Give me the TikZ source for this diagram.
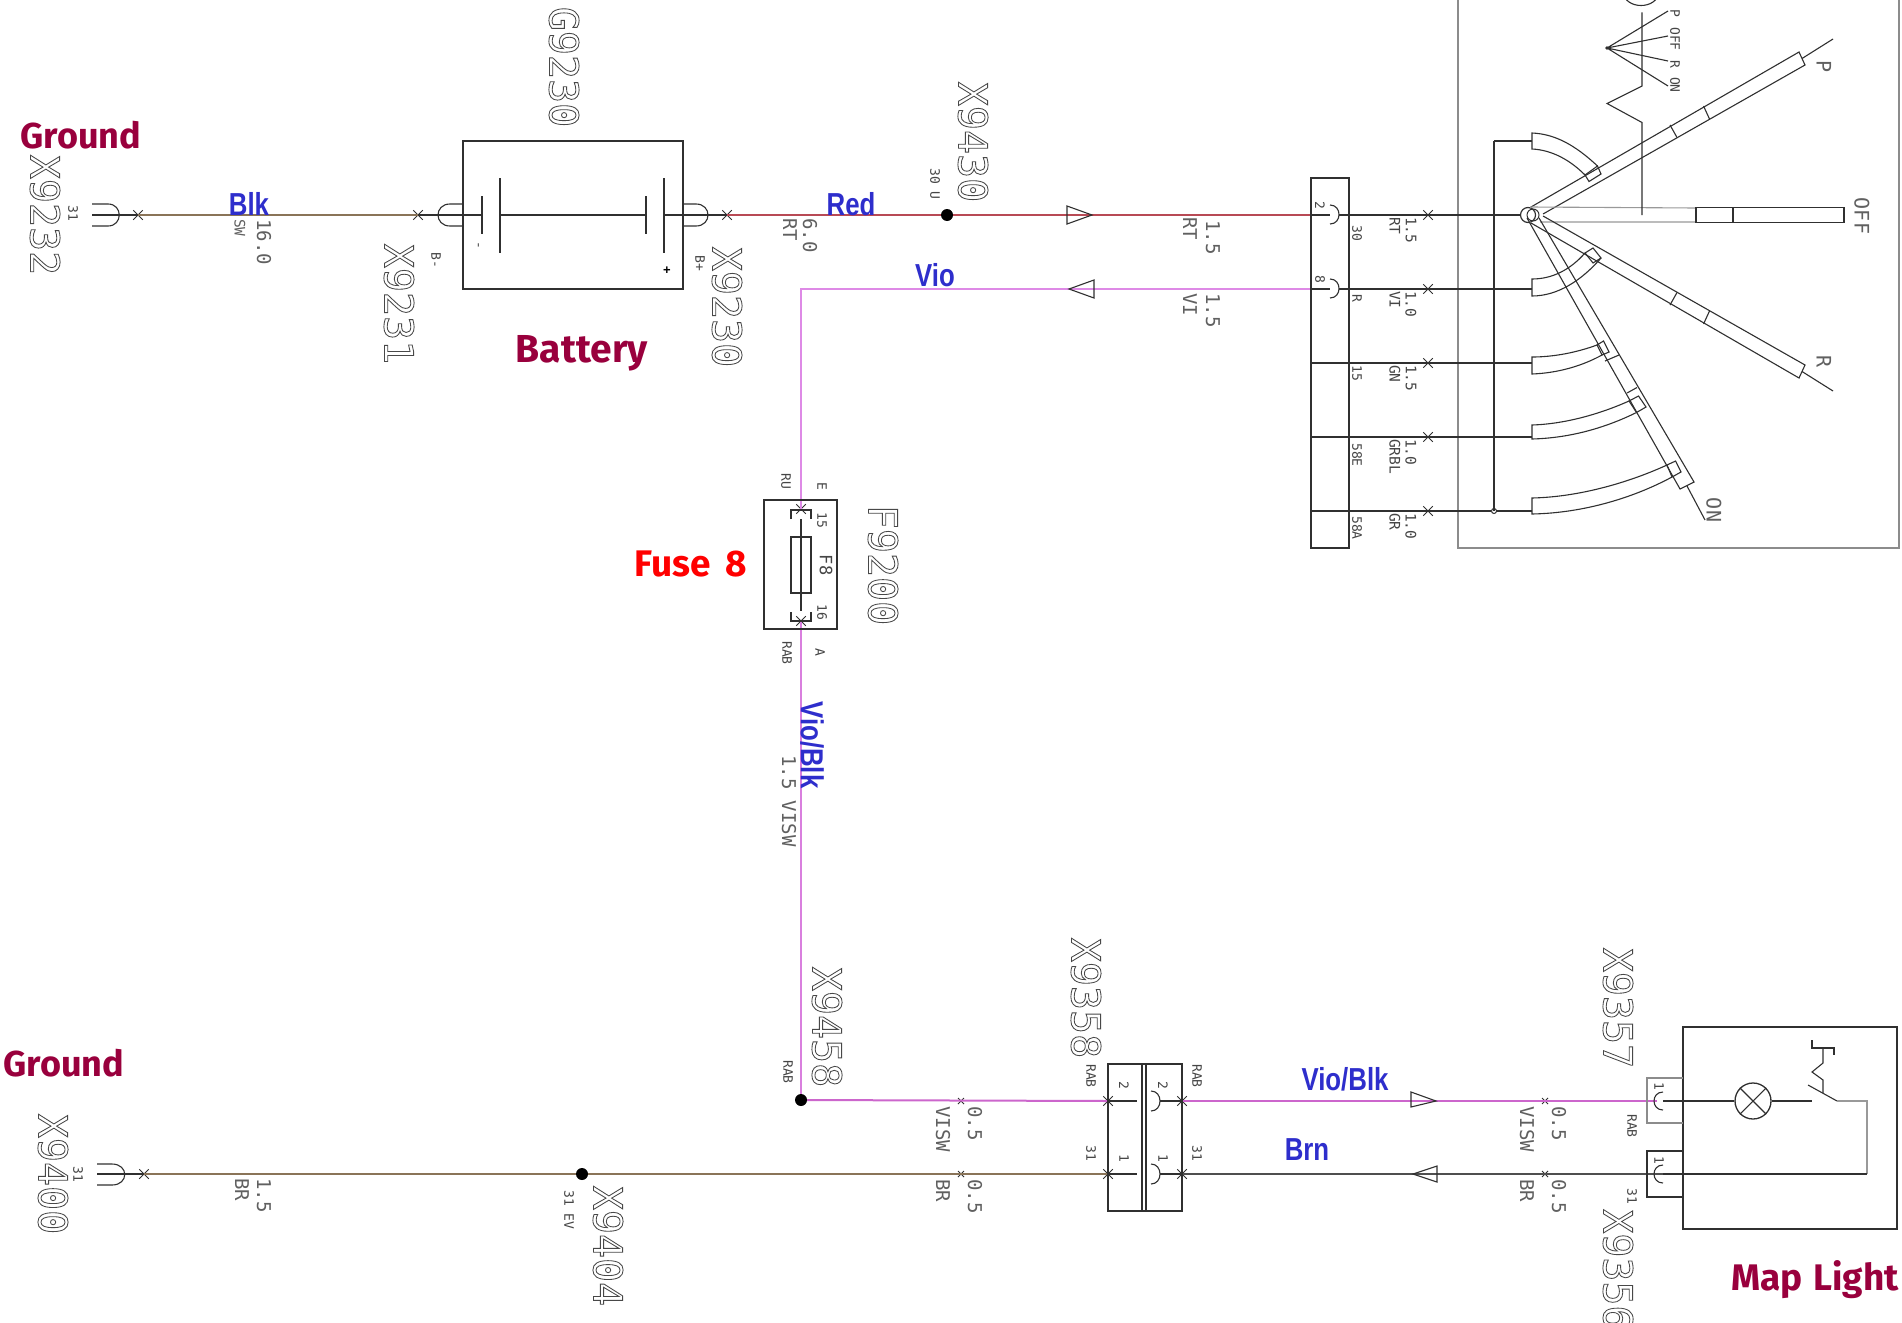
\documentclass[tikz,border=0pt]{standalone}
\usepackage{fontspec}
\usepackage{graphicx}
\usetikzlibrary{shapes.misc}
\newfontfamily\hand{Fira Sans}
\newfontfamily\arialf{Liberation Sans}
\newfontfamily\dsm{DejaVu Sans Mono}
\definecolor{tanwire}{HTML}{8A7458}
\definecolor{redwire}{HTML}{B84A55}
\definecolor{viowire}{HTML}{DE8AE6}
\definecolor{magwire}{HTML}{CC66CC}
\definecolor{ink}{HTML}{303030}
\definecolor{txtgray}{HTML}{606060}
\definecolor{biggray}{HTML}{484848}
\definecolor{maroon}{HTML}{99003D}
\definecolor{labblue}{HTML}{2E2ECC}
\newcommand{\outl}[1]{\special{pdf:code 1 Tr 0.85 w}#1\special{pdf:code 0 Tr}}
\newcommand{\nrw}[1]{\scalebox{0.86}[1.06]{#1}}
\tikzset{
  base/.style={draw=ink,line width=1.1pt,line join=miter},
  thin grey/.style={draw=gray!90,line width=1.2pt},
  big/.style={rotate=-90,inner sep=0,text=biggray,font={\dsm\fontsize{40}{40}\selectfont}},
  mid/.style={rotate=-90,inner sep=0,anchor=west,text=txtgray,font={\dsm\fontsize{19}{19}\selectfont}},
  midb/.style={rotate=-90,inner sep=0,anchor=west,text=ink!90,font={\dsm\fontsize{14.5}{14.5}\selectfont}},
  tiny/.style={rotate=-90,inner sep=0,text=ink!90,font={\dsm\fontsize{13}{13}\selectfont}},
  armlab/.style={rotate=-90,inner sep=0,text=txtgray,font={\dsm\fontsize{20}{20}\selectfont}},
  hw/.style={inner sep=0,text=maroon,font={\hand\bfseries\fontsize{37}{37}\selectfont}},
  wl/.style={inner sep=0,text=labblue,font={\arialf\bfseries\fontsize{30}{30}\selectfont}},
  xm/.style={cross out,draw=ink,line width=1pt,minimum size=8.5pt,inner sep=0},
  xs/.style={cross out,draw=ink,line width=1pt,minimum size=5pt,inner sep=0},
  jdot/.style={circle,fill=black,minimum size=12pt,inner sep=0},
  wtan/.style={draw=tanwire,line width=1.8pt},
  wred/.style={draw=redwire,line width=1.8pt},
  wvio/.style={draw=viowire,line width=2pt},
  wmag/.style={draw=magwire,line width=2pt},
  wblk/.style={draw=ink,line width=1.6pt},
}
\begin{document}
\begin{tikzpicture}[x=1pt,y=-1pt]
\useasboundingbox (0,0) rectangle (1902,1322);
\clip (0,0) rectangle (1902,1322);
\fill[white] (0,0) rectangle (1902,1322);

%---------- switch enclosure
\draw[thin grey] (1458,0) -- (1458,548) -- (1899,548) -- (1899,0);

%---------- crosses and junctions
\node[xm] (xgnd) at (138,215) {};
\node[xm] (xbm) at (418,215) {};
\node[xm] (xbp) at (727,215) {};
\node[jdot] (d9430) at (947,215) {};
\node[xm] (xf1) at (801,509) {};
\node[xm] (xf2) at (801,621) {};
\node[jdot] (d9458) at (801,1100) {};
\node[xm] (xgnd2) at (144,1174) {};
\node[jdot] (d9404) at (582,1174) {};
\node[xm] (xc1) at (1108,1101) {};
\node[xm] (xc2) at (1108,1174) {};
\node[xm] (xd1) at (1182,1101) {};
\node[xm] (xd2) at (1182,1174) {};
\node[xs] (xe1) at (961,1101) {};
\node[xs] (xe2) at (961,1174) {};
\node[xs] (xg1) at (1545,1101) {};
\node[xs] (xg2) at (1545,1174) {};
\node[xm] (xr1) at (1428,215) {};
\node[xm] (xr2) at (1428,289) {};
\node[xm] (xr3) at (1428,363) {};
\node[xm] (xr4) at (1428,437) {};
\node[xm] (xr5) at (1428,511) {};
\coordinate (c1) at (1311,215);
\coordinate (c2) at (1311,289);
\coordinate (c3) at (1311,363);
\coordinate (c4) at (1311,437);
\coordinate (c5) at (1311,511);
\coordinate (corner) at (801,289);
\coordinate (t1) at (1532,289);
\coordinate (t3) at (1532,363);
\coordinate (t4) at (1532,437);
\coordinate (t5) at (1532,511);
\node[circle,draw=ink,line width=1.2pt,minimum size=15pt,inner sep=0] (pivot) at (1528,215) {};
\node[circle,draw=ink,line width=1pt,minimum size=5pt,inner sep=0,fill=white] (bus) at (1494,511) {};
\coordinate (l1) at (1657,1101);
\coordinate (l2) at (1663,1174);

%---------- coloured wires
\draw[wtan] (xgnd.center) -- (xbm.center);
\draw[wred] (xbp.center) -- (d9430) -- (c1);
\draw[wvio] (c2) -- (corner) -- (xf1.center);
\draw[wvio,draw=viowire!70!magwire] (xf2.center) -- (d9458);
\draw[wmag] (d9458) -- (xc1.center);
\draw[wmag] (xd1.center) -- (l1);
\draw[wtan] (xgnd2.center) -- (d9404) -- (xc2.center);
\draw[wblk,draw=ink!85] (xd2.center) -- (l2);

%---------- black wires in switch
\draw[wblk,line width=1.2pt] (c1) -- (xr1.center) -- (pivot.west);
\draw[wblk,line width=1.2pt] (c2) -- (xr2.center) -- (t1);
\draw[wblk,line width=1.2pt] (c3) -- (xr3.center) -- (t3);
\draw[wblk,line width=1.2pt] (c4) -- (xr4.center) -- (t4);
\draw[wblk,line width=1.2pt] (c5) -- (xr5.center) -- (bus) -- (t5);

%---------- connector block X (switch)
\draw[base] (1311,178) rectangle (1349,548);
\draw[base,fill=white] (1330,205) .. controls (1342,205) and (1342,224) .. (1330,224);
\draw[base,fill=white] (1330,279) .. controls (1342,279) and (1342,298) .. (1330,298);
\draw[base] (1339,215) -- (1349,215) (1339,289) -- (1349,289);
\node[tiny] (p2) at (1320,205) {2};
\node[tiny] (p8) at (1320,279) {8};
\node[tiny,anchor=west] (p30) at (1357,225) {30};
\node[tiny,anchor=west] (pR) at (1357,294) {R};
\node[tiny,anchor=west] (p15) at (1357,365) {15};
\node[tiny,anchor=west] (p58E) at (1357,443) {58E};
\node[tiny,anchor=west] (p58A) at (1357,516) {58A};
\node[midb] (w1a) at (1395,217) {RT};
\node[midb] (w1b) at (1411,217) {1.5};
\node[midb] (w2a) at (1395,291) {VI};
\node[midb] (w2b) at (1411,291) {1.0};
\node[midb] (w3a) at (1395,365) {GN};
\node[midb] (w3b) at (1411,365) {1.5};
\node[midb] (w4a) at (1395,439) {GRBL};
\node[midb] (w4b) at (1411,439) {1.0};
\node[midb] (w5a) at (1395,513) {GR};
\node[midb] (w5b) at (1411,513) {1.0};

%---------- switch internals
\draw[base] (1494,141) -- (1494,511);
\draw[base] (1494,141) -- (1532,141);
\node[circle,draw=ink,line width=1pt,minimum size=12pt,inner sep=0] (pivotb) at (1533,215) {};
% contacts
\draw[base] (1597.5,166) .. controls (1575,145) and (1555,134) .. (1532,133) -- (1532,149) .. controls (1552,150) and (1570,160) .. (1585,175);
\draw[base] (1585,175) -- (1597.5,166) -- (1601,174) -- (1589,181.5) -- cycle;
\draw[base] (1585,253) .. controls (1570,270) and (1552,279) .. (1532,279) -- (1532,296) .. controls (1558,296) and (1582,280) .. (1601,258);
\draw[base] (1585,253) -- (1593,248) -- (1601,258) -- (1593,263) -- cycle;
\draw[base] (1597,345) .. controls (1578,352) and (1555,357) .. (1532,357) -- (1532,374) .. controls (1558,373) and (1582,366) .. (1602,355);
\draw[base] (1597,345) -- (1603.5,341) -- (1609,352) -- (1602,355) -- cycle;
\draw[base] (1629,401) .. controls (1600,414) and (1565,424) .. (1532,425) -- (1532,439) .. controls (1570,438) and (1605,428) .. (1636.5,412.5);
\draw[base] (1629,401) -- (1638.5,396) -- (1646,407) -- (1636.5,412.5) -- cycle;
\draw[base] (1667,465) .. controls (1630,482) and (1580,497) .. (1532,498) -- (1532,514) .. controls (1585,513) and (1635,497) .. (1672,477);
\draw[base] (1667,465) -- (1675.6,461) -- (1681,472) -- (1672,477) -- cycle;
% arm P
\draw[base] (1531,207) -- (1799,52) -- (1805,65) -- (1543,214);
\draw[base] (1802,58.5) -- (1833,39);
\draw[base] (1670,125) -- (1677,137.5) (1703.5,106) -- (1709.5,119);
% arm OFF
\draw[base,draw=gray!80] (1530,207) -- (1696,208) (1540,222) -- (1696,222);
\draw[base] (1696,207.5) rectangle (1844,222.5);
\draw[base] (1733,207.5) -- (1733,222.5);
% arm R
\draw[base] (1531,223) -- (1799,378) -- (1805,365) -- (1543,216);
\draw[base] (1802,371.5) -- (1833,391);
\draw[base] (1670,305) -- (1677,292.5) (1703.5,324) -- (1709.5,311);
% arm ON
\draw[base] (1527,218) -- (1680,489) -- (1694,482) -- (1539,218);
\draw[base] (1687,486) -- (1705,520);
\draw[base] (1605,361) -- (1619,355) (1627,393) -- (1637,387.5);
% spring / fan
\draw[base] (1642,215) -- (1642,122.5) -- (1607,103.5) -- (1642,86) -- (1642,12.5);
\draw[base] (1607,48) -- (1668,11) (1607,48) -- (1668,36) (1607,48) -- (1668,61) (1607,48) -- (1668,86);
\fill[ink] (1607,48) circle (1.8pt);
\draw[base] (1623,-8) .. controls (1625,10) and (1657,10) .. (1659,-8);
\node[tiny] (fP) at (1675,13) {P};
\node[tiny] (fOFF) at (1675,39) {OFF};
\node[tiny] (fR) at (1675,64) {R};
\node[tiny] (fON) at (1675,85) {ON};
\node[armlab] (aP) at (1824,67) {P};
\node[armlab] (aOFF) at (1862,216) {OFF};
\node[armlab] (aR) at (1824,362) {R};
\node[armlab] (aON) at (1714,510) {ON};

%---------- top left ground
\draw[base] (92,204) -- (108,204) .. controls (123,204) and (123,226) .. (108,226) -- (92,226);
\draw[base] (92,215) -- (120,215);
\draw[wblk,line width=1.2pt] (119,215) -- (xgnd.center);
\node[big] (X9232) at (45,215) {\outl{X9232}};
\node[tiny] (g31) at (73,213) {31};
\node[hw,font={\hand\bfseries\fontsize{36}{36}\selectfont}] (Ground1) at (81,135) {Ground};
\node[wl] (Blk) at (249,204) {\nrw{Blk}};
\node[midb,text=txtgray,font={\dsm\fontsize{19}{19}\selectfont}] (s160) at (264,219) {16.0};
\node[midb,text=txtgray] (sSW) at (240,219) {SW};

%---------- battery
\node[draw=ink,line width=1.3pt,minimum width=220pt,minimum height=148pt,inner sep=0] (batt) at (573,215) {};
\draw[base] (463,204) -- (450,204) .. controls (434,204) and (434,226) .. (450,226) -- (463,226);
\draw[base] (683,204) -- (696,204) .. controls (712,204) and (712,226) .. (696,226) -- (683,226);
\draw[wblk,line width=1.2pt] (xbm.center) -- (482,215);
\draw[base] (482,196) -- (482,234) (500,178) -- (500,253);
\draw[wblk,line width=1.2pt] (500,215) -- (646,215);
\draw[base] (646,196) -- (646,234) (664,178) -- (664,253);
\draw[wblk,line width=1.2pt] (664,215) -- (xbp.center);
\node[tiny] (bminus) at (477,245) {-};
\node[inner sep=0,font={\arialf\bfseries\fontsize{13}{13}\selectfont}] (bplus) at (667,271) {+};
\node[tiny,anchor=west] (bB1) at (436,252) {B-};
\node[tiny,anchor=west] (bB2) at (700,255) {B+};
\node[big] (G9230) at (564,67) {\outl{G9230}};
\node[big] (X9231) at (399,304) {\outl{X9231}};
\node[big] (X9230) at (727,307) {\outl{X9230}};
\node[hw,font={\hand\bfseries\fontsize{39}{39}\selectfont}] (Battery) at (582,353) {Battery};

%---------- top wires labels
\node[mid] (a1) at (790,218) {RT};
\node[mid] (a2) at (810,218) {6.0};
\node[wl] (Red) at (851,204) {\nrw{Red}};
\node[big] (X9430) at (973,142) {\outl{X9430}};
\node[tiny,font={\dsm\fontsize{13}{13}\selectfont}] (u30) at (935,184) {30 U};
\node[wl] (Vio) at (935,275) {\nrw{Vio}};
\draw[base] (1067,206) -- (1092,215) -- (1067,224) -- cycle;
\draw[base] (1094,280) -- (1069,289) -- (1094,298) -- cycle;
\node[mid] (b1) at (1190,217) {RT};
\node[mid] (b2) at (1213,220) {1.5};
\node[mid] (b3) at (1190,293) {VI};
\node[mid] (b4) at (1213,293) {1.5};

%---------- fuse
\draw[base] (764,500) rectangle (837,629);
\draw[base] (791,519) -- (791,510) -- (811,510) -- (811,519);
\draw[base] (791,612) -- (791,621) -- (811,621) -- (811,612);
\draw[base] (791,537) rectangle (811,593);
\draw[base] (801,519) -- (801,611);
\node[tiny] (fRU) at (786,481) {RU};
\node[tiny] (fE) at (822,486) {E};
\node[tiny] (f15) at (822,520) {15};
\node[tiny,font={\dsm\fontsize{17}{17}\selectfont}] (fF8) at (826,565) {F8};
\node[tiny] (f16) at (822,612) {16};
\node[tiny] (fRAB) at (787,653) {RAB};
\node[tiny] (fA) at (820,652) {A};
\node[big] (F9200) at (883,565) {\outl{F9200}};
\node[hw,text=red] (Fuse) at (691,564) {Fuse\hspace{6pt} 8};
\node[wl,rotate=-90] (VioBlkV) at (812,745) {\nrw{Vio/Blk}};
\node[mid] (v15) at (789,755) {1.5 VISW};
\node[big] (X9458) at (827,1027) {\outl{X9458}};
\node[tiny] (rabj) at (788,1072) {RAB};

%---------- bottom left
\draw[base] (97,1164) -- (112,1164) .. controls (129,1164) and (129,1185) .. (112,1185) -- (97,1185);
\draw[base] (97,1174) -- (125,1174);
\draw[wblk,line width=1.2pt] (124,1174) -- (xgnd2.center);
\node[big] (X9400) at (53,1174) {\outl{X9400}};
\node[tiny] (g312) at (78,1174) {31};
\node[hw,font={\hand\bfseries\fontsize{36}{36}\selectfont}] (Ground2) at (64,1063) {Ground};
\node[mid] (c1a) at (242,1178) {BR};
\node[mid] (c1b) at (264,1178) {1.5};
\node[tiny,anchor=west] (ev) at (569,1190) {31 EV};
\node[big] (X9404) at (608,1246) {\outl{X9404}};
\node[mid] (e1a) at (943,1106) {VISW};
\node[mid] (e1b) at (975,1106) {0.5};
\node[mid] (e2a) at (943,1179) {BR};
\node[mid] (e2b) at (975,1179) {0.5};

%---------- connector X9358
\draw[base] (1108,1064) rectangle (1182,1211);
\draw[base] (1142,1064) -- (1142,1211) (1146,1064) -- (1146,1211);
\draw[base] (1108,1101) -- (1137,1101) (1108,1174) -- (1137,1174);
\draw[base] (1151,1091) .. controls (1163,1091) and (1163,1111) .. (1151,1111);
\draw[base] (1151,1164) .. controls (1163,1164) and (1163,1184) .. (1151,1184);
\draw[base] (1160,1101) -- (xd1.center) (1160,1174) -- (xd2.center);
\node[tiny] (k2a) at (1124,1085) {2};
\node[tiny] (k1a) at (1124,1158) {1};
\node[tiny] (k2b) at (1163,1085) {2};
\node[tiny] (k1b) at (1163,1158) {1};
\node[tiny] (kR1) at (1091,1076) {RAB};
\node[tiny] (kR2) at (1197,1076) {RAB};
\node[tiny] (k31a) at (1091,1153) {31};
\node[tiny] (k31b) at (1197,1153) {31};
\node[big] (X9358) at (1086,998) {\outl{X9358}};
\node[wl] (VioBlkH) at (1345,1079) {\nrw{Vio/Blk}};
\node[wl] (Brn) at (1307,1150) {\nrw{Brn}};

%---------- map light
\draw[base] (1411,1092) -- (1436,1101) -- (1411,1107) -- cycle;
\draw[base] (1437,1166) -- (1413,1174) -- (1437,1182) -- cycle;
\node[mid] (g1a) at (1527,1106) {VISW};
\node[mid] (g1b) at (1559,1106) {0.5};
\node[mid] (g2a) at (1527,1179) {BR};
\node[mid] (g2b) at (1559,1179) {0.5};
\node[draw=ink,line width=1.3pt,minimum width=214pt,minimum height=202pt,inner sep=0] (map) at (1790,1128) {};
\draw[thin grey] (1683,1078) -- (1647,1078) -- (1647,1123) -- (1683,1123);
\draw[base,line width=1.3pt] (1683,1151) -- (1647,1151) -- (1647,1197) -- (1683,1197);
\draw[base] (1663,1092) .. controls (1651,1092) and (1651,1110) .. (1663,1110);
\draw[base] (1663,1165) .. controls (1651,1165) and (1651,1183) .. (1663,1183);
\node[circle,draw=ink,line width=1.3pt,minimum size=36pt,inner sep=0] (lamp) at (1753,1101) {};
\draw[base] (lamp.45) -- (lamp.225) (lamp.135) -- (lamp.315);
\coordinate (swa) at (1812,1101);
\coordinate (swb) at (1837,1101);
\coordinate (swc) at (1867,1101);
\coordinate (swd) at (1867,1174);
\draw[wblk,line width=1.2pt] (1663,1101) -- (lamp);
\draw[wblk,line width=1.2pt] (lamp) -- (swa);
\draw[base] (1808,1085) -- (swb);
\draw[thin grey,draw=gray!80] (swb) -- (swc) -- (swd);
\draw[wblk,line width=1.2pt] (swd) -- (l2);
\draw[base] (1823,1093) -- (1823,1080) -- (1812,1072) -- (1823,1063) -- (1823,1048);
\draw[base] (1812,1040) -- (1812,1048) -- (1834,1048) -- (1834,1055);
\node[tiny] (m1a) at (1659,1086) {1};
\node[tiny] (m1b) at (1659,1160) {1};
\node[tiny] (mRAB) at (1632,1126) {RAB};
\node[tiny] (m31) at (1632,1196) {31};
\node[big] (X9357) at (1618,1008) {\outl{X9357}};
\node[big,anchor=west] (X9356) at (1618,1209) {\outl{X9356}};
\node[hw] (Map) at (1815,1280) {Map\hspace{2pt} Light};
\end{tikzpicture}
\end{document}
